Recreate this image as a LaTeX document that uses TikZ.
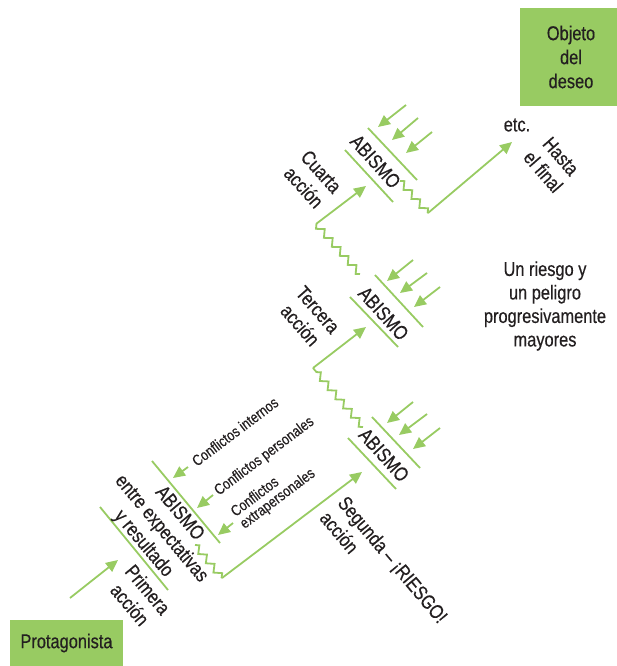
\documentclass[tikz,border=0pt]{standalone}
\usepackage{fontspec}
\setmainfont{Liberation Sans}[FakeStretch=0.82,FakeBold=0.4]
\usetikzlibrary{arrows.meta,decorations.pathmorphing}
\definecolor{lgreen}{RGB}{152,203,98}
\definecolor{txt}{RGB}{35,31,32}
\begin{document}
\begin{tikzpicture}[x=1pt,y=-1pt,
  gl/.style={draw=lgreen,line width=1.8pt},
  arr/.style={gl,-{Triangle[length=12pt,width=11pt]}},
  zz/.style={gl,decorate,decoration={zigzag,segment length=12pt,amplitude=3.2pt}},
  big/.style={font=\fontsize{20}{23.5}\selectfont,text=txt,inner sep=0pt,align=center},
  small/.style={font=\fontsize{15.3}{15}\selectfont,text=txt,inner sep=0pt,align=left},
  box/.style={fill=lgreen,inner sep=0pt,align=center,text=txt,font=\fontsize{20}{24}\selectfont}
]
\useasboundingbox (0,0) rectangle (617,666);

% boxes
\node[box,minimum width=113pt,minimum height=46pt] (prot) at (66.5,643) {Protagonista};
\node[box,minimum width=102pt,minimum height=98pt] (obj) at (571,57) {Objeto\\del\\deseo};

% ---------- group 1 ----------
\coordinate (p0) at (70,598);
\coordinate (p1) at (118,560);
\draw[arr] (p0) -- (p1);
\draw[gl] (100,507) -- (168,590);
\draw[gl] (152,461) -- (220,543);
\node[big,rotate=-50] (ab1) at (161,529) {ABISMO\\entre expectativas\\y resultado};
\node[big,rotate=-50] (pa) at (139,597) {Primera\\acción};
\coordinate (c1s) at (188,467); \coordinate (c1t) at (173,478);
\coordinate (c2s) at (213,495); \coordinate (c2t) at (197,508);
\coordinate (c3s) at (233,523); \coordinate (c3t) at (218,535);
\draw[arr] (c1s) -- (c1t);
\draw[arr] (c2s) -- (c2t);
\draw[arr] (c3s) -- (c3t);
\node[small,rotate=37] (ci) at (235,431.5) {Conflictos internos};
\node[small,rotate=37] (cp) at (264.5,456.5) {Conflictos personales};
\node[small,rotate=37] (ce) at (273.4,493.1) {Conflictos\\extrapersonales};

\coordinate (z1a) at (195,545);
\coordinate (z1b) at (222,578);
\draw[zz] (z1a) -- (z1b);
\coordinate (s2) at (362,472);
\draw[arr] (z1b) -- (s2);

% ---------- group 2 ----------
\draw[gl] (348,438) -- (396,489);
\draw[gl] (372,417) -- (420,468);
\node[big,rotate=-48] (ab2) at (384,455) {ABISMO};
\node[big,rotate=-50,align=left] (sa) at (384,567) {Segunda – ¡RIESGO!\\acción};
\draw[arr] (413,402) -- (387,423);
\draw[arr] (427,414) -- (399,435);
\draw[arr] (440,428) -- (413,449);

\coordinate (z2a) at (363,427);
\coordinate (z2b) at (313,368);
\draw[zz] (z2a) -- (z2b);
\coordinate (s3) at (366,327);
\draw[arr] (z2b) -- (s3);

% ---------- group 3 ----------
\draw[gl] (350,297) -- (398,347);
\draw[gl] (375,275) -- (423,327);
\node[big,rotate=-48] (ab3) at (383.5,313.5) {ABISMO};
\node[big,rotate=-49] (ta) at (309,317.5) {Tercera\\acción};
\draw[arr] (413,260) -- (387,281);
\draw[arr] (427,273) -- (400,293);
\draw[arr] (440,287) -- (414,307);

\coordinate (z3a) at (360,274);
\coordinate (z3b) at (316,224);
\draw[zz] (z3a) -- (z3b);
\coordinate (s4) at (366,186);
\draw[arr] (z3b) -- (s4);

% ---------- group 4 ----------
\draw[gl] (345,150) -- (393,202);
\draw[gl] (368,128) -- (417,180);
\node[big,rotate=-48] (ab4) at (375.5,161.5) {ABISMO};
\node[big,rotate=-48] (cua) at (312.5,179.5) {Cuarta\\acción};
\draw[arr] (406,105) -- (378,127);
\draw[arr] (418,118) -- (392,140);
\draw[arr] (432,132) -- (406,153);

\coordinate (z4a) at (400,181);
\coordinate (z4b) at (428,213);
\draw[zz] (z4a) -- (z4b);
\coordinate (s5) at (512,142);
\draw[arr] (z4b) -- (s5);

% ---------- end ----------
\node[big] (etc) at (517,125) {etc.};
\node[big,rotate=-49] (hf) at (552,164) {Hasta\\el final};
\node[big] (rg) at (545,306) {Un riesgo y\\un peligro\\progresivamente\\mayores};
\end{tikzpicture}
\end{document}
